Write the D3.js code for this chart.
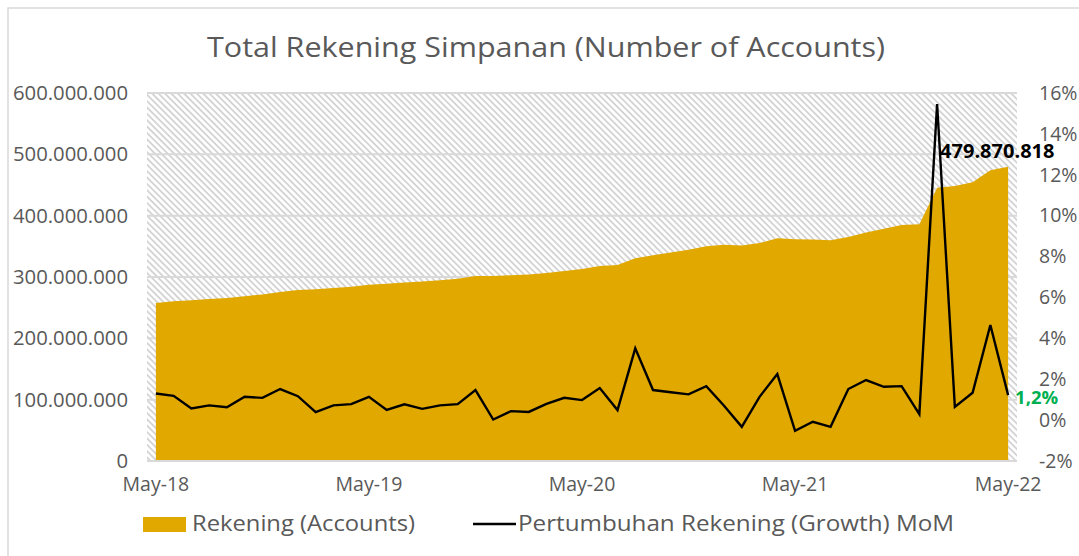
<!DOCTYPE html>
<html>
<head>
<meta charset="utf-8">
<script src="https://cdn.jsdelivr.net/npm/d3@7"></script>
<style>
  html, body { margin: 0; padding: 0; background: #fff; }
  svg { display: block; }
  text { font-family: "Open Sans", sans-serif; }
</style>
</head>
<body>
<svg id="chart" width="1079" height="556"></svg>
<script>
// ---- Data ----
const months = ["May-18","Jun-18","Jul-18","Aug-18","Sep-18","Oct-18","Nov-18","Dec-18","Jan-19","Feb-19","Mar-19","Apr-19",
  "May-19","Jun-19","Jul-19","Aug-19","Sep-19","Oct-19","Nov-19","Dec-19","Jan-20","Feb-20","Mar-20","Apr-20",
  "May-20","Jun-20","Jul-20","Aug-20","Sep-20","Oct-20","Nov-20","Dec-20","Jan-21","Feb-21","Mar-21","Apr-21",
  "May-21","Jun-21","Jul-21","Aug-21","Sep-21","Oct-21","Nov-21","Dec-21","Jan-22","Feb-22","Mar-22","Apr-22","May-22"];
// Number of accounts (millions)
const accountsM = [257.5,260.6,262.1,264.0,265.7,268.7,271.6,275.7,278.9,280.0,282.0,284.2,
  287.4,288.9,291.1,292.7,294.8,297.1,301.5,301.6,302.9,304.1,306.5,309.9,
  312.9,317.8,319.4,330.6,335.4,340.0,344.3,350.0,352.5,351.3,355.3,363.3,
  361.4,361.1,359.9,365.3,372.5,378.6,384.9,386.0,445.5,448.4,454.4,474.0,479.870818];
// Month-on-month growth (%)
const growthPct = [1.3,1.19,0.57,0.72,0.63,1.14,1.09,1.52,1.17,0.39,0.72,0.78,
  1.14,0.5,0.77,0.55,0.72,0.78,1.47,0.03,0.44,0.4,0.79,1.09,
  0.98,1.57,0.49,3.51,1.47,1.36,1.26,1.66,0.7,-0.33,1.14,2.25,
  -0.52,-0.08,-0.33,1.52,1.96,1.63,1.66,0.29,15.46,0.65,1.34,4.65,1.22];
const xTickLabels = ["May-18","May-19","May-20","May-21","May-22"];
const leftTicks = [0,100e6,200e6,300e6,400e6,500e6,600e6];
const rightTicks = [-0.02,0,0.02,0.04,0.06,0.08,0.10,0.12,0.14,0.16];
const title = "Total Rekening Simpanan (Number of Accounts)";
const seriesNames = ["Rekening (Accounts)","Pertumbuhan Rekening (Growth) MoM"];
const lastValueLabel = "479.870.818";
const lastGrowthLabel = "1,2%";

// ---- Layout ----
const svg = d3.select("#chart");
const L = 147, R = 1017, T = 93, B = 461;
const gold = "#e1a900", grid = "#d9d9d9", txt = "#595959";
const FONT = '"Open Sans", sans-serif';

const data = months.map((m, i) => ({m, acc: accountsM[i] * 1e6, g: growthPct[i] / 100}));

const x = d3.scaleBand().domain(months).range([L, R]).padding(0);
const cx = d => x(d) + x.bandwidth() / 2;
const yL = d3.scaleLinear().domain([0, 600e6]).range([B, T]);
const yR = d3.scaleLinear().domain([-0.02, 0.16]).range([B, T]);

// fit a text to a target width (keeps it real text)
function fit(sel, w) {
  sel.attr("textLength", w).attr("lengthAdjust", "spacingAndGlyphs");
  return sel;
}

// chart border
svg.append("rect").attr("x", 8).attr("y", 8).attr("width", 1100).attr("height", 600)
  .attr("fill", "none").attr("stroke", grid).attr("stroke-width", 1.5);

// hatch pattern
const defs = svg.append("defs");
const pat = defs.append("pattern").attr("id", "hatch").attr("patternUnits", "userSpaceOnUse")
  .attr("width", 4.5).attr("height", 4.5).attr("patternTransform", "rotate(-45)");
pat.append("rect").attr("width", 4.5).attr("height", 4.5).attr("fill", "#fff");
pat.append("line").attr("x1", 1).attr("y1", 0).attr("x2", 1).attr("y2", 4.5)
  .attr("stroke", "#d0d0d0").attr("stroke-width", 1.7);

svg.append("rect").attr("x", L).attr("y", T).attr("width", R - L).attr("height", B - T)
  .attr("fill", "url(#hatch)");

// gridlines
svg.append("g").selectAll("line").data(leftTicks).join("line")
  .attr("x1", L).attr("x2", R).attr("y1", d => yL(d)).attr("y2", d => yL(d))
  .attr("stroke", grid).attr("stroke-width", 2);

// area
const area = d3.area().x(d => cx(d.m)).y0(yL(0)).y1(d => yL(d.acc));
svg.append("path").datum(data).attr("d", area).attr("fill", gold);

// bottom axis line
svg.append("line").attr("x1", L).attr("x2", R).attr("y1", B).attr("y2", B)
  .attr("stroke", grid).attr("stroke-width", 2);

// growth line
const line = d3.line().x(d => cx(d.m)).y(d => yR(d.g));
svg.append("path").datum(data).attr("d", line).attr("fill", "none")
  .attr("stroke", "#000").attr("stroke-width", 2.4).attr("stroke-linejoin", "miter");

// left axis
const fmtDots = d => d3.format(",")(d).replace(/,/g, ".");
const axL = svg.append("g").attr("transform", `translate(${L - 19},0)`)
  .call(d3.axisLeft(yL).tickValues(leftTicks).tickFormat(fmtDots).tickSize(0).tickPadding(0));
axL.select(".domain").remove();
axL.selectAll("text").attr("fill", txt).style("font-size", "20.3px").style("font-family", FONT);

// right axis
const axR = svg.append("g").attr("transform", `translate(${R + 22},0)`)
  .call(d3.axisRight(yR).tickValues(rightTicks).tickFormat(d => Math.round(d * 100) + "%").tickSize(0).tickPadding(0));
axR.select(".domain").remove();
axR.selectAll("text").attr("fill", txt).style("font-size", "19.5px").style("font-family", FONT);

// bottom axis
const axB = svg.append("g").attr("transform", `translate(0,${B + 21})`)
  .call(d3.axisBottom(x).tickValues(xTickLabels).tickSize(0).tickPadding(0));
axB.select(".domain").remove();
axB.selectAll("text").attr("fill", txt).style("font-size", "19.5px").attr("dy", "0.45em").style("font-family", FONT);

// data labels
const last = data[data.length - 1];
svg.append("text").attr("x", cx(last.m) - 68).attr("y", yL(last.acc) - 9)
  .attr("font-weight", "bold").attr("fill", "#000").style("font-size", "20px")
  .text(lastValueLabel);
svg.append("text").attr("x", cx(last.m) + 7).attr("y", yR(last.g) + 9)
  .attr("font-weight", "bold").attr("fill", "#00b050").style("font-size", "18.5px")
  .text(lastGrowthLabel);

// title
fit(svg.append("text").attr("x", 207).attr("y", 57)
  .attr("fill", txt).style("font-size", "28px").text(title), 678);

// legend
svg.append("rect").attr("x", 143).attr("y", 517).attr("width", 43).attr("height", 15).attr("fill", gold);
fit(svg.append("text").attr("x", 192).attr("y", 531).attr("fill", txt).style("font-size", "22.5px").text(seriesNames[0]), 223);
svg.append("line").attr("x1", 473).attr("x2", 516).attr("y1", 524).attr("y2", 524)
  .attr("stroke", "#000").attr("stroke-width", 2.4);
fit(svg.append("text").attr("x", 518).attr("y", 531).attr("fill", txt).style("font-size", "22.5px").text(seriesNames[1]), 436);
</script>
</body>
</html>
